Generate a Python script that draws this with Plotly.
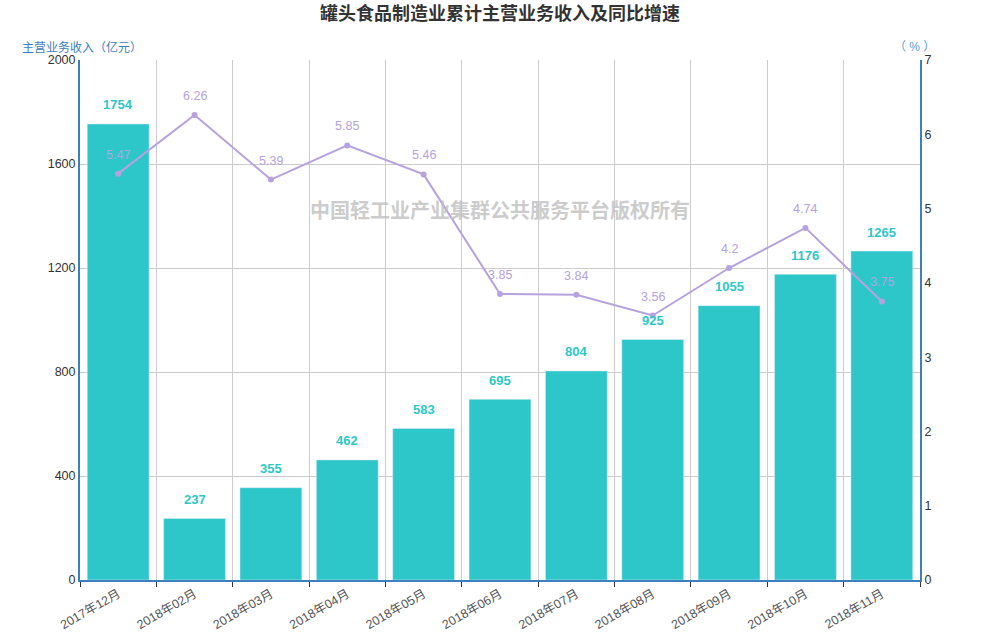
import plotly.graph_objects as go

months = ['2017年12月', '2018年02月', '2018年03月', '2018年04月', '2018年05月', '2018年06月',
          '2018年07月', '2018年08月', '2018年09月', '2018年10月', '2018年11月']
revenue = [1754, 237, 355, 462, 583, 695, 804, 925, 1055, 1176, 1265]
growth = [5.47, 6.26, 5.39, 5.85, 5.46, 3.85, 3.84, 3.56, 4.2, 4.74, 3.75]

bar_color = '#2ec7c9'
line_color = '#b6a2de'
axis_color = '#3d80bd'
font = 'Liberation Sans, Noto Sans CJK SC, sans-serif'

fig = go.Figure()
fig.add_trace(go.Bar(x=months, y=revenue, marker_color=bar_color, name='主营业务收入'))
fig.add_trace(go.Scatter(x=months, y=growth, yaxis='y2', mode='lines+markers',
                         line=dict(color=line_color, width=2),
                         marker=dict(size=6, color=line_color), name='同比增速'))

annotations = []
for m, v in zip(months, revenue):
    annotations.append(dict(x=m, y=v, xref='x', yref='y', text='<b>%d</b>' % v,
                            showarrow=False, yshift=19,
                            font=dict(color=bar_color, size=13, family=font)))
for m, v in zip(months, growth):
    annotations.append(dict(x=m, y=v, xref='x', yref='y2', text=str(v),
                            showarrow=False, yshift=19,
                            font=dict(color=line_color, size=12.5, family=font)))

annotations.append(dict(x=500, y=211, xref='paper', yref='paper', yanchor='middle',
                        text='<b>中国轻工业产业集群公共服务平台版权所有</b>', showarrow=False,
                        font=dict(color='rgba(190,190,190,0.8)', size=20, family=font)))
annotations.append(dict(x=20, y=47, xref='paper', yref='paper', xanchor='left', yanchor='middle',
                        text='主营业务收入（亿元）', showarrow=False,
                        font=dict(color=axis_color, size=12, family=font)))
annotations.append(dict(x=937, y=47, xref='paper', yref='paper', xanchor='right', yanchor='middle',
                        text='（ % ）', showarrow=False,
                        font=dict(color='#5b9bd5', size=12, family=font)))

# pixel positions -> paper coords (plot area spans x 80..920, y 60..580)
for a in annotations:
    if a['xref'] == 'paper' and a['x'] > 1:
        a['x'] = (a['x'] - 80) / 840
    if a['yref'] == 'paper' and a['y'] > 1:
        a['y'] = (580 - a['y']) / 520

fig.update_layout(
    title=dict(text='<b>罐头食品制造业累计主营业务收入及同比增速</b>', x=0.5, y=1 - 14 / 640,
               xanchor='center', yanchor='middle',
               font=dict(size=18, color='#333', family=font)),
    width=1000, height=640,
    margin=dict(l=80, r=80, t=60, b=60),
    plot_bgcolor='white', paper_bgcolor='white',
    showlegend=False, bargap=0.19,
    font=dict(family=font, color='#333', size=12),
    xaxis=dict(type='category', range=[-0.5, len(months) - 0.5], tickson='boundaries',
               showgrid=True, gridcolor='#ccc',
               showline=True, linecolor=axis_color, linewidth=2, automargin=False,
               ticks='outside', ticklen=5, tickcolor='#333', tickangle=-30,
               tickfont=dict(size=12.5, color='#555')),
    yaxis=dict(range=[0, 2000], dtick=400, showgrid=True, gridcolor='#ccc',
               showline=True, linecolor=axis_color, linewidth=2, zeroline=False,
               automargin=False, ticks='', tickfont=dict(size=12.5, color='#333')),
    yaxis2=dict(range=[0, 7], dtick=1, overlaying='y', side='right', showgrid=False,
                showline=True, linecolor=axis_color, linewidth=2, zeroline=False,
                automargin=False, ticks='', tickfont=dict(size=12.5, color='#333')),
    annotations=annotations,
)

# drop the default body margin so the 1000x640 figure fills the window
fig.write_html('out.html', config={'displayModeBar': False},
               post_script="document.body.style.margin = '0';")
